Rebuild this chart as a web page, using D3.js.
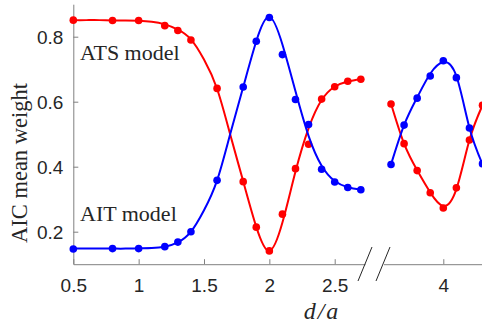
<!DOCTYPE html>
<html>
<head>
<meta charset="utf-8">
<script src="https://cdn.jsdelivr.net/npm/d3@7"></script>
<style>
  body { margin: 0; background: #fff; }
  .tick text { font-family: "Liberation Sans", Arial, sans-serif; font-size: 19px; fill: #262626; }
  .axis path, .axis line { stroke: #808080; stroke-width: 1; }
  .lbl { font-family: "Liberation Serif", "DejaVu Serif", serif; fill: #262626; }
</style>
</head>
<body>
<svg id="chart"></svg>
<script>
// SET DATA
// measured points (left part of axis, d/a from 0.5 to 2.7)
const dLeft = [0.5, 0.8, 1.0, 1.2, 1.3, 1.4, 1.6, 1.8, 1.9, 2.0, 2.1, 2.2, 2.3, 2.4, 2.5, 2.6, 2.7];
const atsLeft = [0.851, 0.850, 0.850, 0.834, 0.819, 0.790, 0.641, 0.354, 0.214, 0.141, 0.254, 0.394, 0.469, 0.608, 0.646, 0.663, 0.669];
const aitLeft = [0.147, 0.148, 0.148, 0.154, 0.168, 0.200, 0.358, 0.645, 0.786, 0.859, 0.745, 0.607, 0.530, 0.392, 0.353, 0.336, 0.329];
// measured points (right part of axis)
const dRight = [3.6, 3.7, 3.8, 3.9, 4.0, 4.1, 4.2, 4.3];
const atsRight = [0.593, 0.471, 0.388, 0.320, 0.273, 0.335, 0.482, 0.589];
const aitRight = [0.407, 0.528, 0.611, 0.679, 0.726, 0.674, 0.519, 0.409];
// fitted curves
const dFitLeft = [0.5, 0.6, 0.7, 0.8, 0.9, 1.0, 1.1, 1.2, 1.3, 1.4, 1.5, 1.6, 1.7, 1.8, 1.9, 2.0, 2.1, 2.2, 2.3, 2.4, 2.5, 2.6, 2.7];
const atsFitLeft = [0.851, 0.851, 0.851, 0.850, 0.850, 0.849, 0.846, 0.838, 0.822, 0.792, 0.730, 0.640, 0.500, 0.355, 0.215, 0.141, 0.228, 0.385, 0.518, 0.605, 0.646, 0.662, 0.670];
const aitFitLeft = [0.148, 0.148, 0.148, 0.148, 0.148, 0.149, 0.150, 0.154, 0.167, 0.200, 0.266, 0.358, 0.500, 0.645, 0.786, 0.861, 0.776, 0.632, 0.495, 0.403, 0.356, 0.337, 0.330];
const dFitRight = [3.6, 3.7, 3.8, 3.9, 4.0, 4.1, 4.2, 4.3];
const atsFitRight = [0.594, 0.471, 0.389, 0.321, 0.279, 0.331, 0.482, 0.589];
const aitFitRight = [0.407, 0.528, 0.613, 0.686, 0.722, 0.679, 0.520, 0.408];
const yTicks = [0.2, 0.4, 0.6, 0.8];
const xTicksLeft = [0.5, 1, 1.5, 2, 2.5];
const xTicksRight = [4];

// SET VARIABLES
const W = 482, H = 333;
const svg = d3.select('#chart').attr('width', W).attr('height', H);
const pxPerUnit = 130.7;
const xL = d3.scaleLinear().domain([0.5, 0.5 + (365 - 73.3) / pxPerUnit]).range([73.3, 365]);
const xR = d3.scaleLinear().domain([4 - (443.3 - 383.5) / pxPerUnit, 4 + (483 - 443.3) / pxPerUnit]).range([383.5, 483]);
const y = d3.scaleLinear().domain([0.1, 0.9]).range([264.2, 4.2]);
const red = '#ff0000', blue = '#0000ff';

// AXES
svg.append('g').attr('class', 'axis')
  .attr('transform', `translate(0,${y(0.1)})`)
  .call(d3.axisBottom(xL).tickValues(xTicksLeft).tickFormat(d3.format('')).tickSizeInner(-5).tickSizeOuter(0).tickPadding(14));
svg.append('g').attr('class', 'axis')
  .attr('transform', `translate(0,${y(0.1)})`)
  .call(d3.axisBottom(xR).tickValues(xTicksRight).tickFormat(d3.format('')).tickSizeInner(-5).tickSizeOuter(0).tickPadding(14));
svg.append('g').attr('class', 'axis')
  .attr('transform', `translate(${xL(0.5)},0)`)
  .call(d3.axisLeft(y).tickValues(yTicks).tickSizeInner(-5).tickSizeOuter(0).tickPadding(10));
svg.selectAll('.tick text').attr('dy', null).attr('dominant-baseline', 'central');
svg.selectAll('.axis').filter((d, i) => i < 2).selectAll('.tick text').attr('dominant-baseline', 'hanging');

// break marks
const breakG = svg.append('g').attr('stroke', '#262626').attr('stroke-width', 1);
[358, 376].forEach(x0 => {
  breakG.append('line').attr('x1', x0).attr('y1', 281).attr('x2', x0 + 14).attr('y2', 247);
});

// CURVES AND POINTS
const series = [
  {x: xL, fd: dFitLeft, fv: atsFitLeft, d: dLeft, v: atsLeft, c: red},
  {x: xL, fd: dFitLeft, fv: aitFitLeft, d: dLeft, v: aitLeft, c: blue},
  {x: xR, fd: dFitRight, fv: atsFitRight, d: dRight, v: atsRight, c: red},
  {x: xR, fd: dFitRight, fv: aitFitRight, d: dRight, v: aitRight, c: blue}
];
series.forEach(s => {
  const line = d3.line().x(d => s.x(d[0])).y(d => y(d[1])).curve(d3.curveNatural);
  svg.append('path')
    .datum(d3.zip(s.fd, s.fv))
    .attr('d', line)
    .attr('fill', 'none')
    .attr('stroke', s.c)
    .attr('stroke-width', 2);
  svg.append('g').selectAll('circle')
    .data(d3.zip(s.d, s.v))
    .enter()
    .append('circle')
      .attr('cx', d => s.x(d[0]))
      .attr('cy', d => y(d[1]))
      .attr('r', 3.8)
      .attr('fill', s.c);
});

// TEXT
svg.append('text').attr('class', 'lbl').attr('x', 80).attr('y', 59.5).attr('font-size', 22).text('ATS model');
svg.append('text').attr('class', 'lbl').attr('x', 80).attr('y', 221).attr('font-size', 22).text('AIT model');
svg.append('text').attr('class', 'lbl')
  .attr('transform', 'translate(27,163) rotate(-90)')
  .attr('text-anchor', 'middle').attr('font-size', 22.5).text('AIC mean weight');
svg.append('text').attr('class', 'lbl')
  .attr('x', 322).attr('y', 319).attr('text-anchor', 'middle')
  .attr('font-size', 24).attr('font-style', 'italic').attr('letter-spacing', 2).text('d/a');
</script>
</body>
</html>
